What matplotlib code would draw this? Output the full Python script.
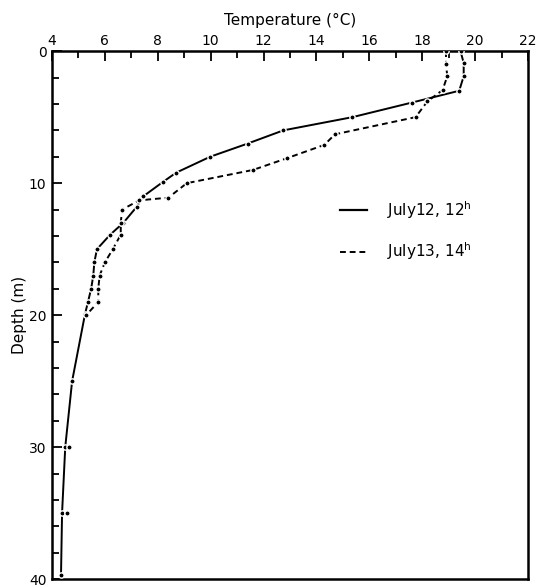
import matplotlib
matplotlib.use('Agg')
import matplotlib.pyplot as plt
from matplotlib.lines import Line2D
from matplotlib.ticker import MultipleLocator

# July 12, 12h profile (temperature in deg C, depth in m)
depth_12 = [0, 0.9, 1.9, 3.0, 3.9, 5.0, 6.0, 7.0, 8.0, 9.2, 9.9, 11.0, 11.8,
            13.0, 13.9, 15.0, 16.0, 17.0, 18.0, 19.0, 19.9, 25.0, 30.0, 35.0, 39.7]
temp_12 = [19.45, 19.57, 19.57, 19.4, 17.6, 15.36, 12.75, 11.4, 9.98, 8.7, 8.2,
           7.45, 7.2, 6.7, 6.2, 5.7, 5.6, 5.56, 5.48, 5.36, 5.25, 4.76, 4.5,
           4.38, 4.34]

# July 13, 14h profile
depth_13 = [0, 1.0, 1.9, 2.95, 3.8, 5.0, 6.3, 7.1, 8.1, 9.0, 10.0, 11.1, 11.3,
            12.0, 13.0, 13.9, 15.0, 16.0, 17.0, 18.0, 19.0, 20.0]
temp_13 = [18.9, 18.9, 18.95, 18.77, 18.2, 17.75, 14.7, 14.3, 12.9, 11.6, 9.1,
           8.4, 7.3, 6.65, 6.6, 6.6, 6.3, 6.0, 5.8, 5.75, 5.75, 5.29]
depth_13_deep = [30.0, 35.0]
temp_13_deep = [4.65, 4.55]

labels = ['July12, 12$^{\\mathrm{h}}$', 'July13, 14$^{\\mathrm{h}}$']

plt.rcParams['font.family'] = ['DejaVu Sans']
fig = plt.figure(figsize=(5.39, 5.88), dpi=100)
ax = fig.add_axes([0.0965, 0.015, 0.883, 0.898])

# lines first, dots on top with a white rim so the line looks broken at each point
ax.plot(temp_12, depth_12, color='black', lw=1.4, solid_capstyle='butt')
ax.plot(temp_12, depth_12, ls='none', marker='o', ms=3.8, color='black',
        mec='white', mew=1.0, zorder=3)
ax.plot(temp_13, depth_13, color='black', lw=1.4, ls=(0, (3, 2)))
ax.plot(temp_13, depth_13, ls='none', marker='o', ms=3.8, color='black',
        mec='white', mew=1.0, zorder=3)
ax.plot(temp_13_deep, depth_13_deep, ls='none', marker='o', ms=3.8,
        color='black', mec='white', mew=1.0, zorder=3)

ax.set_xlim(4, 22)
ax.set_ylim(40, 0)

ax.xaxis.set_label_position('top')
ax.xaxis.tick_top()
ax.xaxis.set_major_locator(MultipleLocator(2))
ax.xaxis.set_minor_locator(MultipleLocator(1))
ax.yaxis.set_major_locator(MultipleLocator(10))
ax.yaxis.set_minor_locator(MultipleLocator(2))
ax.tick_params(which='both', direction='in', width=1.3, labelsize=10,
               top=True, bottom=False, left=True, right=False)
ax.tick_params(which='major', length=7)
ax.tick_params(which='minor', length=5)
ax.tick_params(axis='x', pad=2)
ax.tick_params(axis='y', pad=4)

for side in ax.spines.values():
    side.set_linewidth(1.8)

ax.set_xlabel('Temperature (°C)', fontsize=11, labelpad=7)
ax.set_ylabel('Depth (m)', fontsize=11, labelpad=1)

handles = [Line2D([], [], color='black', lw=1.6),
           Line2D([], [], color='black', lw=1.4, ls=(0, (3, 2)))]
ax.legend(handles, labels, loc='upper left', bbox_to_anchor=(0.605, 0.72),
          frameon=False, fontsize=11, handlelength=1.8, handletextpad=1.3,
          labelspacing=1.3, borderpad=0, borderaxespad=0)

fig.savefig('out.png', dpi=100)
